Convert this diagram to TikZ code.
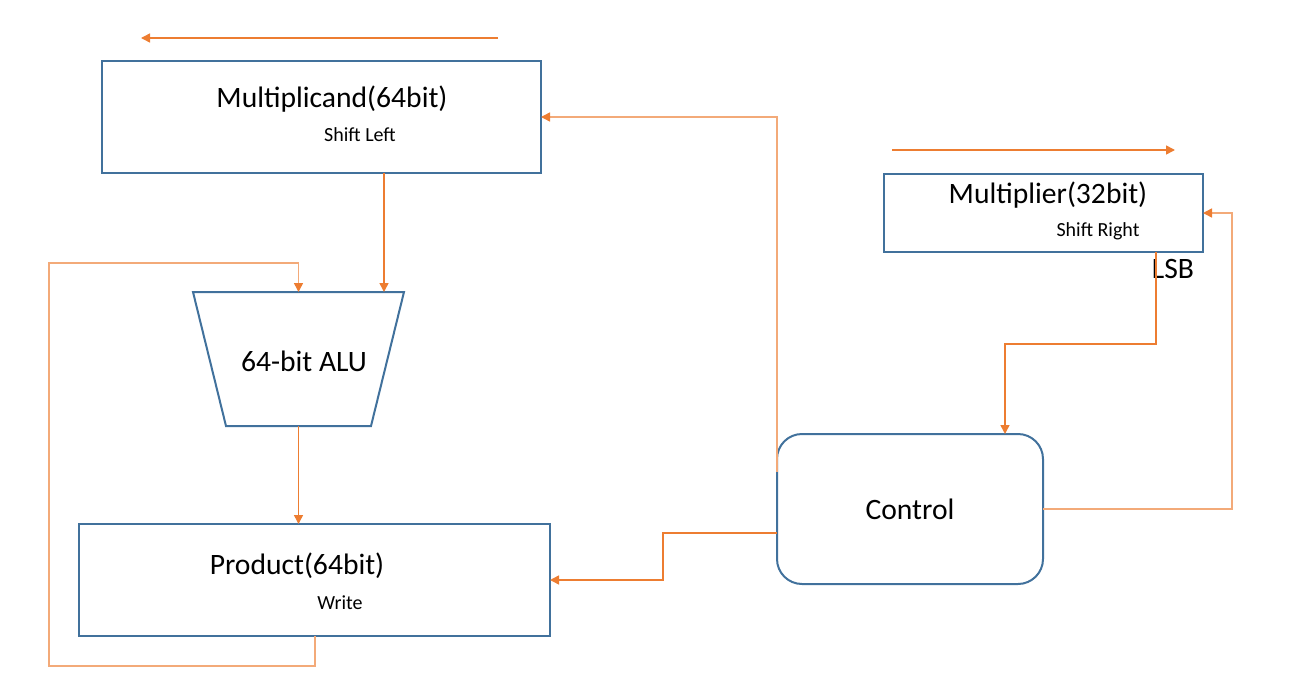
\documentclass[tikz,border=0pt]{standalone}
\usepackage{fontspec}
\setmainfont{Carlito}
\usetikzlibrary{positioning, arrows.meta, calc}
\definecolor{regblue}{HTML}{41719C}
\definecolor{wireorange}{HTML}{ED7D31}
\colorlet{wirepale}{wireorange!65}

\begin{document}
\begin{tikzpicture}[
      x=0.5pt, y=-0.5pt,
      every node/.style={font=\fontsize{14.8}{17}\selectfont, inner sep=0pt},
      small/.style={font=\fontsize{10}{12}\selectfont},
      reg/.style={draw=regblue, line width=1pt, rectangle, outer sep=0pt},
      wire/.style={draw=wireorange, line width=0.75pt},
      palewire/.style={draw=wirepale, line width=0.75pt},
      >={Triangle[length=4.5pt, width=4.5pt, color=wireorange]},
    ]
    \useasboundingbox (0,0) rectangle (1291,696);

    % registers
    \node[reg, minimum width=219.5pt, minimum height=56pt] (mcand) at (321.5,117) {};
    \node (mcandtxt) at (332,99) {Multiplicand(64bit)};
    \node[small] (mcandop) at (360,135) {Shift Left};

    \node[reg, minimum width=159.5pt, minimum height=39pt] (mplier) at (1043.5,213) {};
    \node (mpliertxt) at (1048,195) {Multiplier(32bit)};
    \node[small] (mplierop) at (1098,231) {Shift Right};
    \node (lsb) at (1173,269) {LSB};

    \node[reg, minimum width=235.5pt, minimum height=56pt] (prod) at (314.5,580) {};
    \node (prodtxt) at (297,566) {Product(64bit)};
    \node[small] (prodop) at (340,603) {Write};

    % alu
    \coordinate (alunw) at (193,292);
    \coordinate (alune) at (404,292);
    \coordinate (alusw) at (226,426);
    \coordinate (aluse) at (371,426);
    \coordinate (alutop) at (298.5,292);
    \coordinate (alubot) at (298.5,426);
    \draw[draw=regblue, line width=1pt] (alunw) -- (alune) -- (aluse) -- (alusw) -- cycle;
    \node (alu) at (304,361) {64-bit ALU};

    \node[reg, rounded corners=12.5pt, minimum width=133pt, minimum height=75pt] (ctrl) at (910,509) {Control};

    % shift directions
    \coordinate (shlfrom) at (498,38);
    \coordinate (shlto) at (141,38);
    \coordinate (shrfrom) at (892,150);
    \coordinate (shrto) at (1175,150);
    \draw[wire, ->] (shlfrom) -- (shlto);
    \draw[wire, ->] (shrfrom) -- (shrto);

    % datapath
    \draw[wire, ->] (mcand.south -| 384,0) -- (384,0 |- alune);
    \draw[wire, ->] (alubot) -- (alubot |- prod.north);
    \draw[palewire, ->] (prod.south -| 315,0) |- (49,666) |- (298.5,263) -- (alutop);

    % control signals
    \draw[palewire, ->] ([yshift=18.5pt]ctrl.west) |- (mcand.east);
    \draw[wire, ->] ([yshift=-12pt]ctrl.west) -- (663,533) |- (prod.east);
    \draw[wire, ->] (mplier.south -| 1156,0) |- (1005,344) -- (1005,0 |- ctrl.north);
    \draw[palewire, ->] (ctrl.east) -- (1232,509) |- (mplier.east);
  \end{tikzpicture}
\end{document}
